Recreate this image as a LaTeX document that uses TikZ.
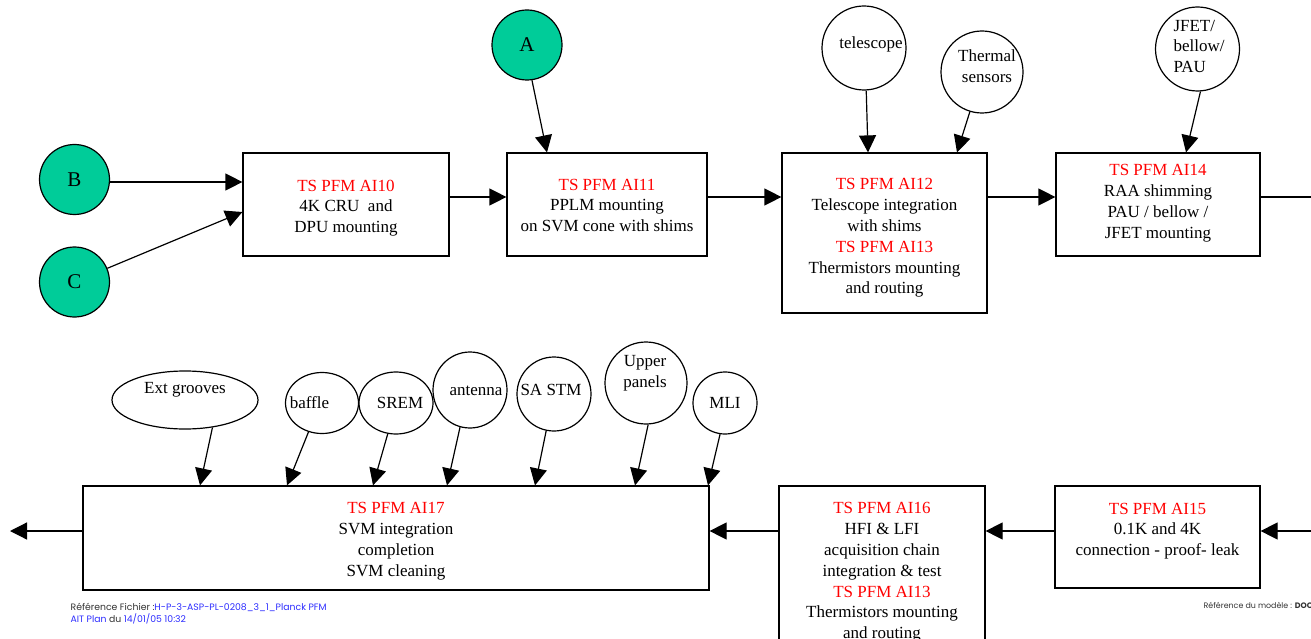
\documentclass[tikz,border=0pt]{standalone}
\usepackage{fontspec}
\setmainfont{Liberation Serif}
\newfontfamily\footfont{Poppins}
\usetikzlibrary{arrows.meta,shapes.geometric,calc}
\definecolor{tsred}{RGB}{255,0,0}
\definecolor{startgreen}{RGB}{0,204,153}
\definecolor{refblue}{RGB}{45,45,255}
\definecolor{refgray}{RGB}{50,50,50}
\newcommand{\ts}[1]{\textcolor{tsred}{#1}}
% text of a stage box, moved down by #1 from the box centre
\newcommand{\stagetext}[2]{\raisebox{\dimexpr-4pt-#1\relax}[0pt][0pt]{\begin{tabular}[c]{@{}c@{}}#2\end{tabular}}}
% text of a part bubble: #1 right shift, #2 down shift, #3 column type, #4 lines
\newcommand{\parttext}[4]{\makebox[0pt]{\kern#1\kern#1\raisebox{\dimexpr-4pt-#2\relax}[0pt][0pt]{\begin{tabular}[c]{@{}#3@{}}#4\end{tabular}}}}

\begin{document}
\begin{tikzpicture}[x=1pt,y=-1pt,
  every node/.style={font=\fontsize{17}{20.8}\selectfont, inner sep=0pt, line width=1.2pt},
  stagebox/.style={draw, rectangle},
  startnode/.style={draw, circle, fill=startgreen, minimum size=70pt, font=\fontsize{21}{24}\selectfont},
  partnode/.style={draw, circle},
  partoval/.style={draw, ellipse},
  flow/.style={line width=1.2pt, -{Triangle[length=17pt,width=17pt]}},
  footnode/.style={anchor=base west, font=\footfont\fontsize{9.3}{11}\selectfont, text=refgray}
]
\useasboundingbox (0,0) rectangle (1311,639);

% ---------- upper row ----------
\node[startnode] (B) at (74.5,179.5) {B};
\node[startnode] (C) at (74.5,282) {C};
\node[startnode] (A) at (527,45) {A};

\node[stagebox, minimum width=206pt, minimum height=103pt] (AI10) at (346,204.5)
  {\stagetext{3.5pt}{\ts{TS PFM AI10}\\4K CRU \ and\\DPU mounting}};
\node[stagebox, minimum width=200pt, minimum height=103pt] (AI11) at (607,204.5)
  {\stagetext{2.5pt}{\ts{TS PFM AI11}\\PPLM mounting\\on SVM cone with shims}};
\node[stagebox, minimum width=205pt, minimum height=160pt] (AI12) at (884.5,233)
  {\stagetext{5pt}{\ts{TS PFM AI12}\\Telescope integration\\with shims\\\ts{TS PFM AI13}\\Thermistors mounting\\and routing}};
\node[stagebox, minimum width=204pt, minimum height=103pt] (AI14) at (1158,204.5)
  {\stagetext{-1.5pt}{\ts{TS PFM AI14}\\RAA shimming\\PAU / bellow /\\JFET mounting}};

\node[partnode, minimum size=84pt] (tele) at (864,48) {\parttext{7pt}{-3pt}{c}{telescope}};
\node[partnode, minimum size=82pt] (therm) at (982,72) {\parttext{5pt}{-4pt}{c}{Thermal\\sensors}};
\node[partnode, minimum size=84pt] (jfet) at (1197.5,49) {\parttext{1.5pt}{-1pt}{l}{JFET/\\bellow/\\PAU}};

\coordinate (inB) at ([yshift=22.5pt]AI10.west);
\coordinate (inC) at ([yshift=-7.5pt]AI10.west);
\coordinate (outR) at (1311,197);

\draw[flow] (B.east |- inB) -- (inB);
\draw[flow] (C) -- (inC);
\draw[flow] (A.-82) -- ([xshift=-60pt]AI11.north);
\draw[flow] ([yshift=7.5pt]AI10.east) -- ([yshift=7.5pt]AI11.west);
\draw[flow] ([yshift=7.5pt]AI11.east) -- ([yshift=36pt]AI12.west);
\draw[flow] ([yshift=36pt]AI12.east) -- ([yshift=7.5pt]AI14.west);
\draw[line width=1.2pt] ([yshift=7.5pt]AI14.east) -- (outR);

\draw[flow] (tele.-87) -- ([xshift=-16.5pt]AI12.north);
\draw[flow] (therm.-107) -- ([xshift=72.5pt]AI12.north);
\draw[flow] (jfet.-86) -- ([xshift=28pt]AI14.north);

% ---------- lower row ----------
\node[stagebox, minimum width=205pt, minimum height=102pt] (AI15) at (1157.5,537)
  {\stagetext{-6pt}{\ts{TS PFM AI15}\\0.1K and 4K\\connection - proof- leak}};
\node[stagebox, minimum width=206pt, minimum height=172pt] (AI16) at (882,572)
  {\stagetext{0.5pt}{\ts{TS PFM AI16}\\HFI \& LFI\\acquisition chain\\integration \& test\\\ts{TS PFM AI13}\\Thermistors mounting\\and routing}};
\node[stagebox, minimum width=626pt, minimum height=104pt] (AI17) at (396,538)
  {\stagetext{3pt}{\ts{TS PFM AI17}\\SVM integration\\completion\\SVM cleaning}};

\node[partoval, minimum width=146pt, minimum height=58pt] (ext) at (185,400) {\parttext{0pt}{-10pt}{c}{Ext grooves}};
\node[partoval, minimum width=73pt, minimum height=61pt] (baffle) at (322,403) {\parttext{-12.5pt}{2pt}{c}{baffle}};
\node[partoval, minimum width=74pt, minimum height=62pt] (srem) at (396,403) {\parttext{4pt}{2pt}{c}{SREM}};
\node[partoval, minimum width=74pt, minimum height=76pt] (antenna) at (470,390) {\parttext{6pt}{2pt}{c}{antenna}};
\node[partnode, minimum size=74pt] (sastm) at (554,394) {\parttext{-3pt}{-2pt}{c}{SA STM}};
\node[partnode, minimum size=82pt] (upper) at (646,383) {\parttext{-1pt}{-10pt}{c}{Upper\\panels}};
\node[partoval, minimum width=64pt, minimum height=62pt] (mli) at (725,403) {\parttext{0pt}{2pt}{c}{MLI}};

\coordinate (inR) at (1311,531);
\coordinate (outL) at (10,531);

\draw[flow] (inR) -- ([yshift=6pt]AI15.east);
\draw[flow] ([yshift=6pt]AI15.west) -- ([yshift=41pt]AI16.east);
\draw[flow] ([yshift=41pt]AI16.west) -- ([yshift=7pt]AI17.east);
\draw[flow] ([yshift=7pt]AI17.west) -- (outL);

\draw[flow] (ext.-45) -- ([xshift=-196pt]AI17.north);
\draw[flow] (baffle.-115) -- ([xshift=-109pt]AI17.north);
\draw[flow] (srem.-105) -- ([xshift=-23pt]AI17.north);
\draw[flow] (antenna.-105) -- ([xshift=51pt]AI17.north);
\draw[flow] (sastm.-102) -- ([xshift=139pt]AI17.north);
\draw[flow] (upper.-87) -- ([xshift=239pt]AI17.north);
\draw[flow] (mli.-99) -- ([xshift=312pt]AI17.north);

% ---------- footer ----------
\node[footnode] (file) at (70,610)
  {Référence Fichier :\textcolor{refblue}{H-P-3-ASP-PL-0208\_3\_1\_Planck PFM}};
\node[footnode] (plan) at (70,622)
  {\textcolor{refblue}{AIT Plan} du \textcolor{refblue}{14/01/05 10:32}};
\node[footnode, font=\footfont\fontsize{7.9}{10}\selectfont] (model) at (1203,608)
  {Référence du modèle : \textbf{DOO}};
\end{tikzpicture}
\end{document}
